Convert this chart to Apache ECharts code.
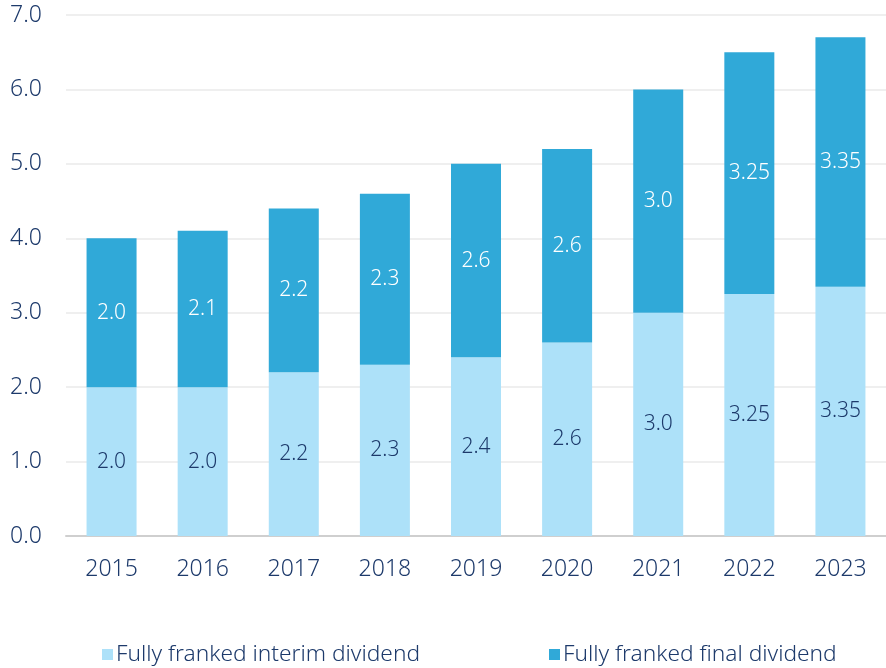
<!DOCTYPE html>
<html><head><meta charset="utf-8">
<script src="https://cdn.jsdelivr.net/npm/echarts@6/dist/echarts.min.js"></script>
<style>html,body{margin:0;padding:0;background:#fff}#c{width:886px;height:668px}</style>
</head><body><div id="c"></div>
<script>
const categories = ['2015','2016','2017','2018','2019','2020','2021','2022','2023'];
const interim = [2.0, 2.0, 2.2, 2.3, 2.4, 2.6, 3.0, 3.25, 3.35];
const finalDiv = [2.0, 2.1, 2.2, 2.3, 2.6, 2.6, 3.0, 3.25, 3.35];
const seriesNames = ['Fully franked interim dividend', 'Fully franked final dividend'];

const FONT = 'Noto Sans';
const TXT = '#1d3a6b';
const fmt = p => { const v = p.value; return (Math.round(v*10) === v*10) ? v.toFixed(1) : v.toFixed(2); };

const chart = echarts.init(document.getElementById('c'));
chart.setOption({
  animation: false,
  textStyle: { fontFamily: FONT },
  grid: { left: 66, right: -2, top: 15, bottom: 132, containLabel: false },
  legend: {
    left: 97, top: 638, itemWidth: 11, itemHeight: 11, itemGap: 129,
    icon: 'rect',
    textStyle: { color: TXT, fontSize: 22.7, fontFamily: FONT, fontWeight: 300, padding: [0,0,0,-2] },
    data: seriesNames
  },
  xAxis: {
    type: 'category', data: categories,
    axisLine: { lineStyle: { color: '#cfcfcf', width: 2 } },
    axisTick: { show: false },
    axisLabel: { color: TXT, fontSize: 23, fontFamily: FONT, fontWeight: 300, margin: 22 }
  },
  yAxis: {
    type: 'value', min: 0, max: 7, interval: 1,
    axisLine: { show: false }, axisTick: { show: false },
    splitLine: { lineStyle: { color: '#efefef', width: 2 } },
    axisLabel: { color: TXT, fontSize: 23, fontFamily: FONT, fontWeight: 300, margin: 24,
      formatter: v => v.toFixed(1) }
  },
  series: [
    { name: seriesNames[0], type: 'bar', stack: 't', data: interim, barWidth: 50,
      itemStyle: { color: '#ade1f9' },
      label: { show: true, position: 'inside', color: TXT, fontSize: 21, fontFamily: FONT, fontWeight: 300, formatter: fmt } },
    { name: seriesNames[1], type: 'bar', stack: 't', data: finalDiv, barWidth: 50,
      itemStyle: { color: '#30a9d8' },
      label: { show: true, position: 'inside', color: '#ffffff', fontSize: 21, fontFamily: FONT, fontWeight: 300, formatter: fmt } }
  ]
});
</script></body></html>
